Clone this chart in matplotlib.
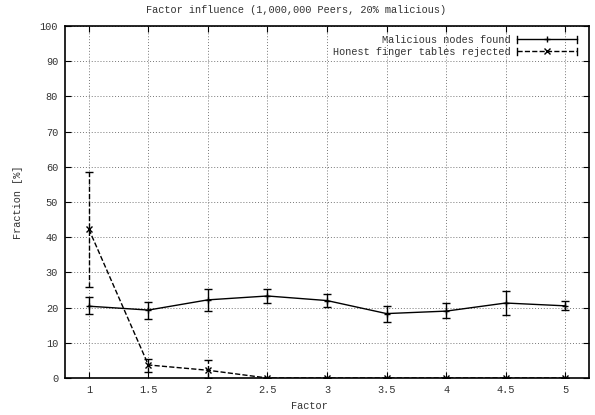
import matplotlib
matplotlib.use("Agg")
import matplotlib.pyplot as plt
import numpy as np
from matplotlib.legend_handler import HandlerBase
from matplotlib.lines import Line2D

plt.rcParams["font.family"] = ["Liberation Mono", "DejaVu Sans Mono"]
plt.rcParams["font.size"] = 7.4

factor = [1, 1.5, 2, 2.5, 3, 3.5, 4, 4.5, 5]

malicious = [20.4, 19.3, 22.2, 23.3, 22.0, 18.3, 19.0, 21.3, 20.5]
malicious_lo = [18.2, 16.9, 19.0, 21.3, 20.3, 16.0, 17.0, 17.8, 19.2]
malicious_hi = [22.9, 21.5, 25.3, 25.2, 23.8, 20.5, 21.3, 24.7, 22.0]

honest = [42.3, 3.7, 2.2, 0, 0, 0, 0, 0, 0]
honest_lo = [25.9, 1.8, 0.0, 0, 0, 0, 0, 0, 0]
honest_hi = [58.6, 5.3, 5.0, 0, 0, 0, 0, 0, 0]

yticks = list(range(0, 101, 10))
xticks = [1, 1.5, 2, 2.5, 3, 3.5, 4, 4.5, 5]
xticklabels = ["1", "1.5", "2", "2.5", "3", "3.5", "4", "4.5", "5"]


class CapLineHandler(HandlerBase):
    # gnuplot style key sample: |---o---|
    def create_artists(self, legend, orig_handle, xdescent, ydescent, width, height, fontsize, trans):
        y = height / 2 - ydescent
        x0, x1 = -xdescent, width - xdescent
        ls = orig_handle.get_linestyle()
        line = Line2D([x0, x1], [y, y], color="black", lw=1.0, ls=ls)
        cap0 = Line2D([x0, x0], [y - 2.5, y + 2.5], color="black", lw=1.0)
        cap1 = Line2D([x1, x1], [y - 2.5, y + 2.5], color="black", lw=1.0)
        mk = Line2D([(x0 + x1) / 2], [y], color="black", marker=orig_handle.get_marker(),
                    ms=5, ls="none")
        arts = [line, cap0, cap1, mk]
        for a in arts:
            a.set_transform(trans)
        return arts


fig = plt.figure(figsize=(5.95, 4.15), dpi=100)
ax = fig.add_axes([65 / 595, 1 - 378 / 415, (589 - 65) / 595, (378 - 26) / 415])

m = np.array(malicious)
m_err = [m - np.array(malicious_lo), np.array(malicious_hi) - m]
h = np.array(honest)
h_err = [h - np.array(honest_lo), np.array(honest_hi) - h]

ax.errorbar(factor, m, yerr=m_err, color="black", lw=1.0, marker="+", ms=5,
            capsize=3, elinewidth=1.0)
eb = ax.errorbar(factor, h, yerr=h_err, color="black", lw=1.0, ls="--", marker="x", ms=5,
                 capsize=3, elinewidth=1.0)
for col in eb[2]:
    col.set_linestyle("--")

ax.set_xlim(0.8, 5.2)
ax.set_ylim(0, 100)
ax.set_xticks(xticks)
ax.set_xticklabels(xticklabels)
ax.set_yticks(yticks)
ax.tick_params(direction="in", top=True, right=True, length=4, width=0.8, colors="black",
               labelcolor="#333333", pad=5)
ax.grid(True, ls=(0, (1, 2)), color="#777777", lw=0.7)
for s in ax.spines.values():
    s.set_linewidth(1.2)

fig.text(0.497, 1 - 10 / 415, "Factor influence (1,000,000 Peers, 20% malicious)",
         ha="center", va="center", color="#333333")
ax.set_xlabel("Factor", color="#333333")
ax.xaxis.set_label_coords((309 - 65) / 524, -23 / 352)
ax.set_ylabel("Fraction [%]", color="#333333")
ax.yaxis.set_label_coords(-42 / 524, 0.5)

handles = [Line2D([], [], color="black", ls="-", marker="+"),
           Line2D([], [], color="black", ls="--", marker="x")]
labels = ["Malicious nodes found", "Honest finger tables rejected"]
leg = ax.legend(handles, labels, handler_map={Line2D: CapLineHandler()},
                loc="upper right", frameon=False, markerfirst=False, handlelength=5.8,
                borderaxespad=0.45, labelspacing=0.2, handletextpad=0.6,
                bbox_to_anchor=(0.993, 1.0))
for t in leg.get_texts():
    t.set_color("#333333")

fig.savefig("out.png", dpi=100)
